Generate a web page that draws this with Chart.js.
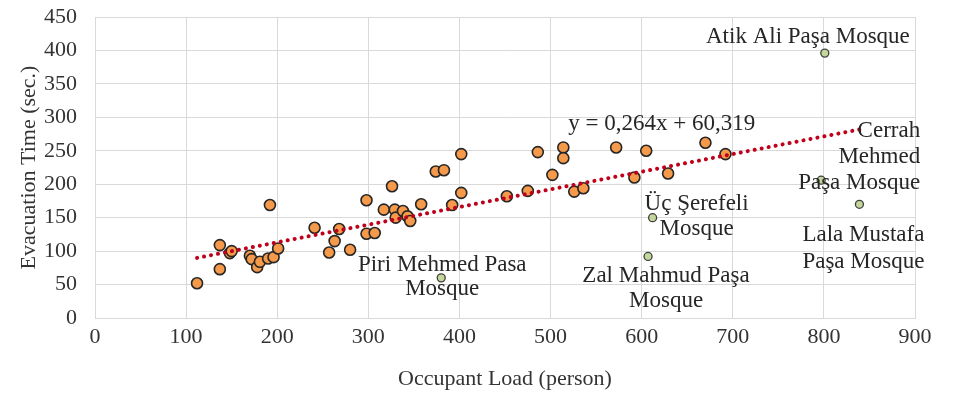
<!DOCTYPE html>
<html>
<head>
<meta charset="utf-8">
<script src="https://cdn.jsdelivr.net/npm/chart.js@4/dist/chart.umd.min.js"></script>
<style>
  html, body { margin: 0; padding: 0; background: #fff; }
  #wrap { width: 965px; height: 396px; }
</style>
</head>
<body>
<div id="wrap"><canvas id="chart" width="965" height="396"></canvas></div>
<script>
// mosques of the main group (occupant load, evacuation time)
const loadX = [112, 137, 137, 148, 150, 170, 172, 178, 181, 190, 192, 196, 201,
  241, 257, 263, 268, 280, 298, 298, 307, 317, 326, 329, 330, 338, 343, 346, 358,
  374, 383, 392, 402, 402, 452, 475, 486, 502, 514, 514, 526, 536, 572, 592, 605,
  629, 670, 692];
const timeY = [52, 109, 73, 97, 100, 93, 88, 76, 84, 89, 169, 91, 104,
  135, 98, 115, 133, 102, 176, 126, 127, 162, 197, 162, 150, 160, 152, 145, 170,
  219, 221, 169, 245, 187, 182, 190, 248, 214, 255, 239, 189, 194, 255, 210, 250,
  216, 262, 245];

// named mosques
const namedMosques = ['Atik Ali Paşa Mosque', 'Cerrah Mehmed Paşa Mosque', 'Lala Mustafa Paşa Mosque',
  'Üç Şerefeli Mosque', 'Zal Mahmud Paşa Mosque', 'Piri Mehmed Pasa Mosque'];
const namedX = [801, 797, 839, 612, 607, 380];
const namedY = [396, 206, 170, 150, 92, 60];

// linear trendline
const trendSlope = 0.264;
const trendIntercept = 60.319;
const trendRange = [112, 839];
const trendText = 'y = 0,264x + 60,319';

const xTicks = [0, 900, 100];
const yTicks = [0, 450, 50];

const serif = "'Liberation Serif', 'Times New Roman', serif";

// where each name sits relative to its point (pixels)
const labelLayout = [
  { lines: ['Atik Ali Paşa Mosque'], dx: 85, dy: -16, align: 'right', lh: 26 },
  { lines: ['Cerrah', 'Mehmed', 'Paşa Mosque'], dx: 99, dy: -49, align: 'right', lh: 26 },
  { lines: ['Lala Mustafa', 'Paşa Mosque'], dx: 4, dy: 31, align: 'center', lh: 27 },
  { lines: ['Üç Şerefeli', 'Mosque'], dx: 44, dy: -14, align: 'center', lh: 25 },
  { lines: ['Zal Mahmud Paşa', 'Mosque'], dx: 18, dy: 19, align: 'center', lh: 25 },
  { lines: ['Piri Mehmed Pasa', 'Mosque'], dx: 1, dy: -13, align: 'center', lh: 24 }
];

const labelPlugin = {
  id: 'mosqueLabels',
  afterDatasetsDraw(chart) {
    const ctx = chart.ctx;
    const xs = chart.scales.x, ys = chart.scales.y;
    ctx.save();
    ctx.font = '23px ' + serif;
    ctx.fillStyle = '#262626';
    ctx.textBaseline = 'middle';
    namedMosques.forEach((name, i) => {
      const l = labelLayout[i];
      const px = xs.getPixelForValue(namedX[i]);
      const py = ys.getPixelForValue(namedY[i]);
      ctx.textAlign = l.align;
      l.lines.forEach((t, k) => ctx.fillText(t, px + l.dx, py + l.dy + k * l.lh));
    });
    // equation text
    ctx.textAlign = 'center';
    ctx.fillText(trendText, xs.getPixelForValue(622), ys.getPixelForValue(290));
    ctx.restore();
  }
};

const mainPoints = loadX.map((x, i) => ({ x: x, y: timeY[i] }));
const namedPoints = namedX.map((x, i) => ({ x: x, y: namedY[i] }));
const trendPoints = trendRange.map(x => ({ x: x, y: trendSlope * x + trendIntercept }));

new Chart(document.getElementById('chart').getContext('2d'), {
  type: 'scatter',
  data: {
    datasets: [
      {
        label: 'Mosques',
        data: mainPoints,
        backgroundColor: '#F5994A',
        borderColor: '#262626',
        borderWidth: 1.6,
        pointRadius: 5.5,
        order: 2
      },
      {
        label: 'Named',
        data: namedPoints,
        backgroundColor: '#C4D79B',
        borderColor: '#404040',
        borderWidth: 1.3,
        pointRadius: 4,
        order: 2
      },
      {
        type: 'line',
        label: 'Trend',
        data: trendPoints,
        borderColor: '#C0001A',
        borderWidth: 4,
        borderDash: [0.1, 7],
        borderCapStyle: 'round',
        pointRadius: 0,
        fill: false,
        order: 1
      }
    ]
  },
  options: {
    responsive: false,
    animation: false,
    layout: { padding: { left: 0, right: 50, top: 17, bottom: 2 } },
    plugins: {
      legend: { display: false },
      tooltip: { enabled: false }
    },
    scales: {
      x: {
        type: 'linear',
        min: xTicks[0], max: xTicks[1],
        ticks: { stepSize: xTicks[2], color: '#333', font: { family: serif, size: 22 }, padding: 6 },
        grid: { color: '#d9d9d9', drawTicks: false },
        border: { color: '#d9d9d9' },
        title: { display: true, text: 'Occupant Load (person)', color: '#333',
          font: { family: serif, size: 22 }, padding: { top: 4, bottom: 2 } },
        afterFit: s => { s.height = 76; s.paddingLeft = 0; s.paddingRight = 0; }
      },
      y: {
        min: yTicks[0], max: yTicks[1],
        ticks: { stepSize: yTicks[2], color: '#333', font: { family: serif, size: 22 }, padding: 18 },
        grid: { color: '#d9d9d9', drawTicks: false },
        border: { color: '#d9d9d9' },
        title: { display: true, text: 'Evacuation Time (sec.)', color: '#333',
          font: { family: serif, size: 22 }, padding: { top: 16, bottom: 0 } },
        afterFit: s => { s.width = 95; s.paddingTop = 0; s.paddingBottom = 0; }
      }
    }
  },
  plugins: [labelPlugin]
});
</script>
</body>
</html>
